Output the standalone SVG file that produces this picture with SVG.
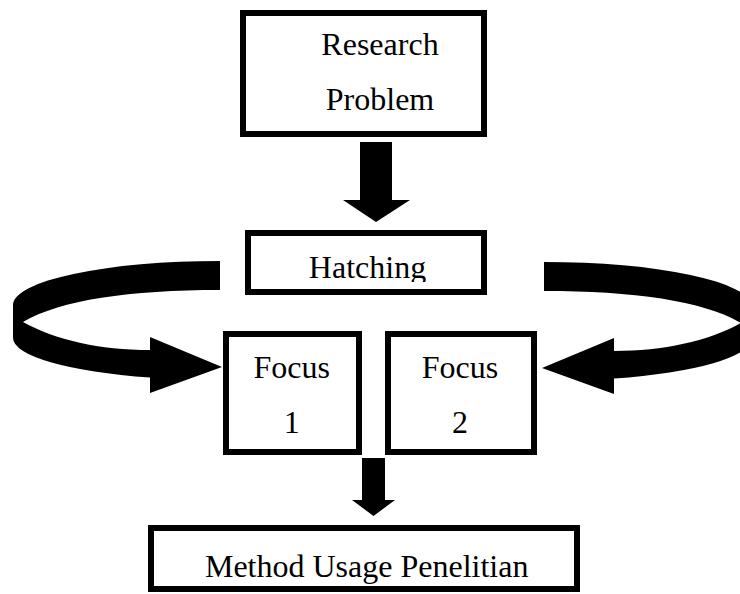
<svg xmlns="http://www.w3.org/2000/svg" width="740" height="594" viewBox="0 0 740 594">
<style>
.box{fill:#fff;stroke:#000;stroke-width:6}
.t{font-family:"Liberation Serif","Times New Roman",serif;font-size:32px;fill:#000;text-anchor:middle}
.arr{fill:#000;stroke:none}
</style>
<defs>
<clipPath id="hclip"><rect x="240" y="225" width="260" height="57"/></clipPath>
<path id="curve" d="M220 261 A207 44 0 0 0 13 305 L13 338 A207 42 0 0 0 150 377.5 L150 393 L222 367 L150 337 L150 350 C100 350 55 340 23 322 C60 300 130 290 220 290 Z"/>
</defs>
<rect width="740" height="594" fill="#fff"/>
<g id="connectors">
<polygon class="arr" points="360,142 392,142 392,200 410,200 376,222 343,200 360,200"/>
<polygon class="arr" points="362,458 385,458 385,500 395,500 373.5,516 352,500 362,500"/>
<use href="#curve" class="arr"/>
<use href="#curve" class="arr" transform="translate(764,1) scale(-1,1)"/>
</g>
<g id="research-problem">
<rect class="box" x="243" y="13" width="241" height="121"/>
<text class="t" x="380" y="55">Research</text>
<text class="t" x="380" y="110">Problem</text>
</g>
<g id="hatching">
<rect class="box" x="248" y="233" width="236" height="59"/>
<text class="t" x="367.5" y="278" clip-path="url(#hclip)">Hatching</text>
</g>
<g id="focus-1">
<rect class="box" x="226" y="334" width="133" height="118"/>
<text class="t" x="291.7" y="378">Focus</text>
<text class="t" x="291.7" y="433">1</text>
</g>
<g id="focus-2">
<rect class="box" x="388" y="334" width="146" height="118"/>
<text class="t" x="460" y="378">Focus</text>
<text class="t" x="460" y="433">2</text>
</g>
<g id="method">
<rect class="box" x="151" y="528" width="426" height="61"/>
<text class="t" x="366.7" y="577">Method Usage Penelitian</text>
</g>
</svg>
